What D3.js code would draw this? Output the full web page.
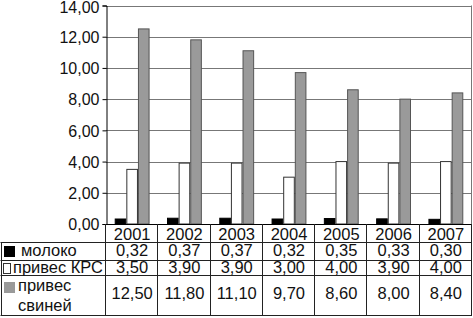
<!DOCTYPE html>
<html>
<head>
<meta charset="utf-8">
<script src="https://cdn.jsdelivr.net/npm/d3@7"></script>
<style>
  body { margin: 0; background: #fff; }
  text { font-family: "Liberation Sans", Arial, sans-serif; fill: #111; }
</style>
</head>
<body>
<div id="chart"></div>
<script>
const width = 473;
const height = 318;

// data
const years = ["2001", "2002", "2003", "2004", "2005", "2006", "2007"];
const seriesNames = ["молоко", "привес КРС", "привес свиней"];
const moloko = [0.32, 0.37, 0.37, 0.32, 0.35, 0.33, 0.30];
const privesKrs = [3.50, 3.90, 3.90, 3.00, 4.00, 3.90, 4.00];
const privesSvinei = [12.50, 11.80, 11.10, 9.70, 8.60, 8.00, 8.40];
const yTicks = [0, 2, 4, 6, 8, 10, 12, 14];

const series = [moloko, privesKrs, privesSvinei];
const fills = ["#000000", "#ffffff", "#9a9a9a"];
const strokes = ["#000000", "#333333", "#555555"];

const ru = d3.formatLocale({ decimal: ",", thousands: " ", grouping: [3], currency: ["", ""] });
const fmt = ru.format(".2f");

const plot = { left: 106, right: 472, top: 5.5, bottom: 224 };
// table rows (bottom edges)
const rowLines = [242, 260, 275, 315];
const tableFont = "16.5px";

const svg = d3.select("#chart")
  .append("svg")
  .attr("width", width)
  .attr("height", height);

const x = d3.scaleBand()
  .domain(years)
  .range([plot.left, plot.right])
  .paddingInner(0)
  .paddingOuter(0);

const xInner = d3.scaleBand()
  .domain(d3.range(series.length))
  .range([0, x.bandwidth()])
  .paddingOuter(0.75)
  .paddingInner(0);

const y = d3.scaleLinear()
  .domain([0, 14])
  .range([plot.bottom, plot.top]);

// gridlines
svg.append("g")
  .selectAll("line")
  .data(yTicks.filter(d => d > 0))
  .join("line")
  .attr("x1", plot.left)
  .attr("x2", plot.right)
  .attr("y1", d => Math.round(y(d)) + 0.5)
  .attr("y2", d => Math.round(y(d)) + 0.5)
  .attr("stroke", "#777")
  .attr("stroke-width", 1);

// right border of plot
svg.append("line")
  .attr("x1", plot.right - 0.5).attr("x2", plot.right - 0.5)
  .attr("y1", plot.top).attr("y2", plot.bottom)
  .attr("stroke", "#777");

// y axis
const yAxis = svg.append("g")
  .attr("transform", `translate(${plot.left + 0.5},0)`)
  .call(d3.axisLeft(y).tickValues(yTicks).tickFormat(fmt).tickSize(4).tickPadding(3));
yAxis.select(".domain").attr("stroke", "#000");
yAxis.selectAll(".tick line").attr("stroke", "#000");
yAxis.selectAll(".tick text")
  .style("font-size", "16px")
  .attr("fill", "#111")
  .attr("dy", d => d === 14 ? "0.45em" : "0.36em");

// bars
const groups = svg.append("g")
  .selectAll("g")
  .data(years)
  .join("g")
  .attr("transform", d => `translate(${x(d)},0)`);

groups.selectAll("rect")
  .data((d, i) => series.map((s, k) => ({ k, v: s[i] })))
  .join("rect")
  .attr("x", d => xInner(d.k) + 0.5)
  .attr("width", xInner.bandwidth() - 1)
  .attr("y", d => y(d.v))
  .attr("height", d => y(0) - y(d.v))
  .attr("fill", d => fills[d.k])
  .attr("stroke", d => strokes[d.k])
  .attr("stroke-width", 1);

// x axis line
svg.append("line")
  .attr("x1", plot.left).attr("x2", plot.right)
  .attr("y1", plot.bottom + 0.5).attr("y2", plot.bottom + 0.5)
  .attr("stroke", "#000");

// data table
const table = svg.append("g");

// horizontal lines of the table
table.selectAll("line.h")
  .data(rowLines)
  .join("line")
  .attr("class", "h")
  .attr("x1", 0.5)
  .attr("x2", plot.right)
  .attr("y1", d => d + 0.5)
  .attr("y2", d => d + 0.5)
  .attr("stroke", "#222");

// vertical lines: left axis and category boundaries
const vx = [plot.left].concat(years.map(d => x(d) + x.bandwidth()));
table.selectAll("line.v")
  .data(vx)
  .join("line")
  .attr("class", "v")
  .attr("x1", d => Math.round(d) - 0.5)
  .attr("x2", d => Math.round(d) - 0.5)
  .attr("y1", plot.bottom)
  .attr("y2", rowLines[3] + 0.5)
  .attr("stroke", "#222");

table.append("line")
  .attr("x1", 1.5).attr("x2", 1.5)
  .attr("y1", rowLines[0]).attr("y2", rowLines[3] + 0.5)
  .attr("stroke", "#222");

// year header
table.selectAll("text.year")
  .data(years)
  .join("text")
  .attr("class", "year")
  .attr("x", d => x(d) + x.bandwidth() / 2)
  .attr("y", 239.5)
  .attr("text-anchor", "middle")
  .style("font-size", tableFont)
  .text(d => d);

// value rows
const rowBase = [256, 273, 299];
series.forEach((s, k) => {
  table.selectAll("text.v" + k)
    .data(s)
    .join("text")
    .attr("class", "v" + k)
    .attr("x", (d, i) => x(years[i]) + x.bandwidth() / 2)
    .attr("y", rowBase[k])
    .attr("text-anchor", "middle")
    .style("font-size", tableFont)
    .text(d => fmt(d));
});

// legend keys
const keyY = [246, 263, 282];
table.selectAll("rect.key")
  .data(seriesNames)
  .join("rect")
  .attr("class", "key")
  .attr("x", (d, k) => k === 1 ? 3.5 : 4.5)
  .attr("y", (d, k) => keyY[k] + 0.5)
  .attr("width", (d, k) => k === 1 ? 7 : 10)
  .attr("height", 10)
  .attr("fill", (d, k) => fills[k])
  .attr("stroke", (d, k) => k === 2 ? "#999" : strokes[k]);

table.append("text")
  .attr("x", 21).attr("y", 256)
  .style("font-size", tableFont)
  .text(seriesNames[0]);

table.append("text")
  .attr("x", 13).attr("y", 273)
  .attr("textLength", 90)
  .attr("lengthAdjust", "spacingAndGlyphs")
  .style("font-size", tableFont)
  .text(seriesNames[1]);

const pigLabel = table.append("text")
  .attr("x", 18)
  .style("font-size", tableFont);
pigLabel.append("tspan").attr("x", 18).attr("y", 291).text("привес");
pigLabel.append("tspan").attr("x", 18).attr("y", 311).text("свиней");
</script>
</body>
</html>
